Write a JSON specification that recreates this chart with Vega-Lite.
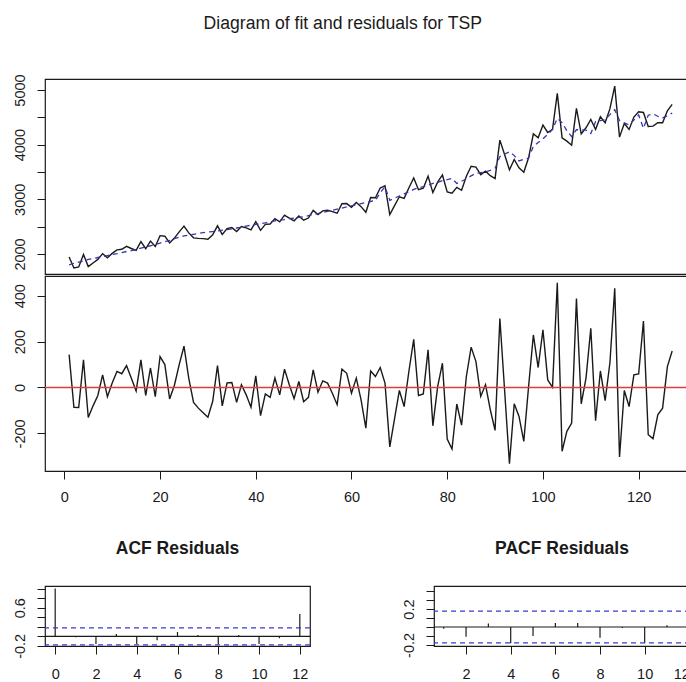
{
"$schema": "https://vega.github.io/schema/vega-lite/v6.json",
"padding": {"left": 0, "top": 14, "right": 0, "bottom": 0},
"background": "white",
"title": {"text": "Diagram of fit and residuals for TSP", "fontSize": 17.6, "fontWeight": "normal", "anchor": "middle", "offset": 41, "dx": -3},
"config": {
  "font": "Liberation Sans",
  "view": {"stroke": "#1a1a1a", "strokeWidth": 1.2},
  "axis": {"domain": false, "grid": false, "labelFont": "Liberation Sans", "labelFontSize": 14.5, "labelColor": "#1a1a1a", "tickColor": "#1a1a1a", "tickSize": 8, "tickWidth": 1, "labelOverlap": false, "tickCount": 30},
  "title": {"font": "Liberation Sans", "color": "#1a1a1a"}
},
"datasets": {
"ts": [
{"t":1,"actual":1943,"fitted":1800,"resid":143},
{"t":2,"actual":1744,"fitted":1830,"resid":-86},
{"t":3,"actual":1763,"fitted":1850,"resid":-87},
{"t":4,"actual":1991,"fitted":1870,"resid":121},
{"t":5,"actual":1769,"fitted":1900,"resid":-131},
{"t":6,"actual":1835,"fitted":1915,"resid":-80},
{"t":7,"actual":1900,"fitted":1935,"resid":-35},
{"t":8,"actual":2005,"fitted":1950,"resid":55},
{"t":9,"actual":1930,"fitted":1970,"resid":-40},
{"t":10,"actual":2010,"fitted":1990,"resid":20},
{"t":11,"actual":2075,"fitted":2005,"resid":70},
{"t":12,"actual":2085,"fitted":2025,"resid":60},
{"t":13,"actual":2140,"fitted":2045,"resid":95},
{"t":14,"actual":2100,"fitted":2060,"resid":40},
{"t":15,"actual":2065,"fitted":2080,"resid":-15},
{"t":16,"actual":2225,"fitted":2105,"resid":120},
{"t":17,"actual":2095,"fitted":2130,"resid":-35},
{"t":18,"actual":2235,"fitted":2150,"resid":85},
{"t":19,"actual":2135,"fitted":2175,"resid":-40},
{"t":20,"actual":2335,"fitted":2200,"resid":135},
{"t":21,"actual":2325,"fitted":2225,"resid":100},
{"t":22,"actual":2200,"fitted":2250,"resid":-50},
{"t":23,"actual":2290,"fitted":2280,"resid":10},
{"t":24,"actual":2405,"fitted":2305,"resid":100},
{"t":25,"actual":2510,"fitted":2330,"resid":180},
{"t":26,"actual":2385,"fitted":2345,"resid":40},
{"t":27,"actual":2295,"fitted":2360,"resid":-65},
{"t":28,"actual":2285,"fitted":2375,"resid":-90},
{"t":29,"actual":2280,"fitted":2390,"resid":-110},
{"t":30,"actual":2270,"fitted":2400,"resid":-130},
{"t":31,"actual":2350,"fitted":2410,"resid":-60},
{"t":32,"actual":2515,"fitted":2420,"resid":95},
{"t":33,"actual":2355,"fitted":2435,"resid":-80},
{"t":34,"actual":2465,"fitted":2445,"resid":20},
{"t":35,"actual":2482,"fitted":2460,"resid":22},
{"t":36,"actual":2410,"fitted":2475,"resid":-65},
{"t":37,"actual":2502,"fitted":2490,"resid":12},
{"t":38,"actual":2478,"fitted":2510,"resid":-32},
{"t":39,"actual":2439,"fitted":2525,"resid":-86},
{"t":40,"actual":2591,"fitted":2540,"resid":51},
{"t":41,"actual":2432,"fitted":2555,"resid":-123},
{"t":42,"actual":2542,"fitted":2570,"resid":-28},
{"t":43,"actual":2547,"fitted":2590,"resid":-43},
{"t":44,"actual":2646,"fitted":2605,"resid":41},
{"t":45,"actual":2588,"fitted":2620,"resid":-32},
{"t":46,"actual":2710,"fitted":2630,"resid":80},
{"t":47,"actual":2657,"fitted":2645,"resid":12},
{"t":48,"actual":2606,"fitted":2655,"resid":-49},
{"t":49,"actual":2696,"fitted":2670,"resid":26},
{"t":50,"actual":2618,"fitted":2680,"resid":-62},
{"t":51,"actual":2657,"fitted":2700,"resid":-43},
{"t":52,"actual":2797,"fitted":2720,"resid":77},
{"t":53,"actual":2720,"fitted":2740,"resid":-20},
{"t":54,"actual":2789,"fitted":2760,"resid":29},
{"t":55,"actual":2799,"fitted":2780,"resid":19},
{"t":56,"actual":2775,"fitted":2800,"resid":-25},
{"t":57,"actual":2745,"fitted":2820,"resid":-75},
{"t":58,"actual":2920,"fitted":2840,"resid":80},
{"t":59,"actual":2922,"fitted":2860,"resid":62},
{"t":60,"actual":2855,"fitted":2880,"resid":-25},
{"t":61,"actual":2941,"fitted":2900,"resid":41},
{"t":62,"actual":2866,"fitted":2920,"resid":-54},
{"t":63,"actual":2763,"fitted":2940,"resid":-177},
{"t":64,"actual":3032,"fitted":2960,"resid":72},
{"t":65,"actual":3028,"fitted":2980,"resid":48},
{"t":66,"actual":3207,"fitted":3120,"resid":87},
{"t":67,"actual":3249,"fitted":3230,"resid":19},
{"t":68,"actual":2721,"fitted":2980,"resid":-259},
{"t":69,"actual":2884,"fitted":3020,"resid":-136},
{"t":70,"actual":3047,"fitted":3060,"resid":-13},
{"t":71,"actual":3017,"fitted":3100,"resid":-83},
{"t":72,"actual":3212,"fitted":3140,"resid":72},
{"t":73,"actual":3390,"fitted":3180,"resid":210},
{"t":74,"actual":3175,"fitted":3210,"resid":-35},
{"t":75,"actual":3202,"fitted":3230,"resid":-28},
{"t":76,"actual":3424,"fitted":3260,"resid":164},
{"t":77,"actual":3123,"fitted":3290,"resid":-167},
{"t":78,"actual":3314,"fitted":3310,"resid":4},
{"t":79,"actual":3446,"fitted":3340,"resid":106},
{"t":80,"actual":3135,"fitted":3360,"resid":-225},
{"t":81,"actual":3112,"fitted":3380,"resid":-268},
{"t":82,"actual":3218,"fitted":3290,"resid":-72},
{"t":83,"actual":3166,"fitted":3330,"resid":-164},
{"t":84,"actual":3423,"fitted":3375,"resid":48},
{"t":85,"actual":3606,"fitted":3430,"resid":176},
{"t":86,"actual":3588,"fitted":3475,"resid":113},
{"t":87,"actual":3451,"fitted":3490,"resid":-39},
{"t":88,"actual":3515,"fitted":3503,"resid":12},
{"t":89,"actual":3433,"fitted":3530,"resid":-97},
{"t":90,"actual":3380,"fitted":3567,"resid":-187},
{"t":91,"actual":4083,"fitted":3782,"resid":301},
{"t":92,"actual":3815,"fitted":3830,"resid":-15},
{"t":93,"actual":3538,"fitted":3870,"resid":-332},
{"t":94,"actual":3729,"fitted":3800,"resid":-71},
{"t":95,"actual":3576,"fitted":3702,"resid":-126},
{"t":96,"actual":3495,"fitted":3730,"resid":-235},
{"t":97,"actual":3759,"fitted":3755,"resid":4},
{"t":98,"actual":4199,"fitted":3970,"resid":229},
{"t":99,"actual":4127,"fitted":4040,"resid":87},
{"t":100,"actual":4358,"fitted":4107,"resid":251},
{"t":101,"actual":4223,"fitted":4190,"resid":33},
{"t":102,"actual":4279,"fitted":4278,"resid":1},
{"t":103,"actual":4938,"fitted":4482,"resid":456},
{"t":104,"actual":4126,"fitted":4404,"resid":-278},
{"t":105,"actual":4065,"fitted":4256,"resid":-191},
{"t":106,"actual":3991,"fitted":4146,"resid":-155},
{"t":107,"actual":4663,"fitted":4275,"resid":388},
{"t":108,"actual":4199,"fitted":4270,"resid":-71},
{"t":109,"actual":4309,"fitted":4268,"resid":41},
{"t":110,"actual":4462,"fitted":4204,"resid":258},
{"t":111,"actual":4279,"fitted":4424,"resid":-145},
{"t":112,"actual":4512,"fitted":4440,"resid":72},
{"t":113,"actual":4400,"fitted":4457,"resid":-57},
{"t":114,"actual":4659,"fitted":4550,"resid":109},
{"t":115,"actual":5073,"fitted":4641,"resid":432},
{"t":116,"actual":4138,"fitted":4441,"resid":-303},
{"t":117,"actual":4387,"fitted":4400,"resid":-13},
{"t":118,"actual":4279,"fitted":4362,"resid":-83},
{"t":119,"actual":4505,"fitted":4450,"resid":55},
{"t":120,"actual":4602,"fitted":4543,"resid":59},
{"t":121,"actual":4590,"fitted":4300,"resid":290},
{"t":122,"actual":4334,"fitted":4540,"resid":-206},
{"t":123,"actual":4340,"fitted":4563,"resid":-223},
{"t":124,"actual":4401,"fitted":4520,"resid":-119},
{"t":125,"actual":4400,"fitted":4490,"resid":-90},
{"t":126,"actual":4621,"fitted":4530,"resid":91},
{"t":127,"actual":4737,"fitted":4578,"resid":159}
],
"zero": [{"y": 0}],
"acf": [
{"lag":0,"acf":1.0},{"lag":1,"acf":-0.02},{"lag":2,"acf":-0.16},{"lag":3,"acf":0.05},{"lag":4,"acf":-0.16},{"lag":5,"acf":-0.08},{"lag":6,"acf":0.09},{"lag":7,"acf":0.03},{"lag":8,"acf":-0.16},{"lag":9,"acf":0.03},{"lag":10,"acf":-0.16},{"lag":11,"acf":-0.04},{"lag":12,"acf":0.47}
],
"pacf": [
{"lag":1,"pacf":-0.02},{"lag":2,"pacf":-0.11},{"lag":3,"pacf":0.04},{"lag":4,"pacf":-0.18},{"lag":5,"pacf":-0.1},{"lag":6,"pacf":0.045},{"lag":7,"pacf":0.045},{"lag":8,"pacf":-0.12},{"lag":9,"pacf":-0.01},{"lag":10,"pacf":-0.18},{"lag":11,"pacf":0.02},{"lag":12,"pacf":0.45}
],
"clim": [{"y": 0.1775}, {"y": -0.1775}]
},
"spacing": 33,
"vconcat": [
{
 "spacing": 0,
 "vconcat": [
  {
   "width": 642, "height": 195,
   "data": {"name": "ts"},
   "layer": [
    {"mark": {"type": "line", "color": "#1a1a1a", "strokeWidth": 1.4},
     "encoding": {
      "x": {"field": "t", "type": "quantitative", "scale": {"domain": [-4.04, 130.1], "nice": false, "zero": false}, "axis": null},
      "y": {"field": "actual", "type": "quantitative", "scale": {"domain": [1633, 5202], "nice": false, "zero": false},
            "axis": {"title": null, "values": [2000,2500,3000,3500,4000,4500,5000], "tickCount": 30, "labelExpr": "datum.value % 1000 == 0 ? format(datum.value, 'd') : ''", "labelAngle": -90, "labelAlign": "center", "labelBaseline": "bottom", "labelPadding": 10, "minExtent": 44, "maxExtent": 44}}
     }},
    {"mark": {"type": "line", "color": "#3535b5", "strokeWidth": 1.3, "strokeDash": [5, 4]},
     "encoding": {
      "x": {"field": "t", "type": "quantitative"},
      "y": {"field": "fitted", "type": "quantitative"}
     }}
   ]
  },
  {
   "width": 642, "height": 195,
   "layer": [
    {"data": {"name": "ts"},
     "mark": {"type": "line", "color": "#1a1a1a", "strokeWidth": 1.4},
     "encoding": {
      "x": {"field": "t", "type": "quantitative", "scale": {"domain": [-4.04, 130.1], "nice": false, "zero": false},
            "axis": {"title": null, "values": [0,20,40,60,80,100,120], "tickCount": 30, "format": "d", "labelPadding": 11.5}},
      "y": {"field": "resid", "type": "quantitative", "scale": {"domain": [-364, 486], "nice": false, "zero": false},
            "axis": {"title": null, "values": [-200,0,200,400], "tickCount": 30, "labelExpr": "datum.value < 0 ? '-' + format(-datum.value, 'd') : format(datum.value, 'd')", "labelAngle": -90, "labelAlign": "center", "labelBaseline": "bottom", "labelPadding": 10, "minExtent": 44, "maxExtent": 44}}
     }},
    {"data": {"name": "zero"},
     "mark": {"type": "rule", "color": "#e03c3c", "strokeWidth": 1.5},
     "encoding": {"y": {"field": "y", "type": "quantitative"}}}
   ]
  }
 ]
},
{
 "spacing": 77,
 "hconcat": [
  {
   "width": 265, "height": 60,
   "title": {"text": "ACF Residuals", "fontSize": 17.5, "fontWeight": "bold", "offset": 29},
   "layer": [
    {"data": {"name": "acf"},
     "mark": {"type": "rule", "color": "#1a1a1a", "strokeWidth": 1.2},
     "encoding": {
      "x": {"field": "lag", "type": "quantitative", "scale": {"domain": [-0.5, 12.5], "nice": false, "zero": false},
            "axis": {"title": null, "values": [0,2,4,6,8,10,12], "tickCount": 30, "format": "d", "labelPadding": 13}},
      "y": {"field": "acf", "type": "quantitative", "scale": {"domain": [-0.203, 1.055], "nice": false, "zero": false},
            "axis": {"title": null, "values": [-0.2,0,0.2,0.4,0.6,0.8,1.0], "tickCount": 30, "labelExpr": "abs(datum.value - 0.6) < 0.01 ? '0.6' : (abs(datum.value + 0.2) < 0.01 ? '-0.2' : '')", "labelAngle": -90, "labelAlign": "center", "labelBaseline": "bottom", "labelPadding": 10, "minExtent": 44, "maxExtent": 44}},
      "y2": {"datum": 0}
     }},
    {"data": {"name": "zero"},
     "mark": {"type": "rule", "color": "#1a1a1a", "strokeWidth": 1.2},
     "encoding": {"y": {"field": "y", "type": "quantitative"}}},
    {"data": {"name": "clim"},
     "mark": {"type": "rule", "color": "#3b3bd0", "strokeWidth": 1.2, "strokeDash": [5, 4]},
     "encoding": {"y": {"field": "y", "type": "quantitative"}}}
   ]
  },
  {
   "width": 256, "height": 60,
   "title": {"text": "PACF Residuals", "fontSize": 17.5, "fontWeight": "bold", "offset": 29},
   "layer": [
    {"data": {"name": "pacf"},
     "mark": {"type": "rule", "color": "#1a1a1a", "strokeWidth": 1.2},
     "encoding": {
      "x": {"field": "lag", "type": "quantitative", "scale": {"domain": [0.565, 12.03], "nice": false, "zero": false},
            "axis": {"title": null, "values": [2,4,6,8,10,12], "tickCount": 30, "format": "d", "labelPadding": 13}},
      "y": {"field": "pacf", "type": "quantitative", "scale": {"domain": [-0.212, 0.458], "nice": false, "zero": false},
            "axis": {"title": null, "values": [-0.2,-0.1,0,0.1,0.2,0.3,0.4], "tickCount": 30, "labelExpr": "abs(datum.value - 0.2) < 0.01 ? '0.2' : (abs(datum.value + 0.2) < 0.01 ? '-0.2' : '')", "labelAngle": -90, "labelAlign": "center", "labelBaseline": "bottom", "labelPadding": 10, "minExtent": 44, "maxExtent": 44}},
      "y2": {"datum": 0}
     }},
    {"data": {"name": "zero"},
     "mark": {"type": "rule", "color": "#1a1a1a", "strokeWidth": 1.2},
     "encoding": {"y": {"field": "y", "type": "quantitative"}}},
    {"data": {"name": "clim"},
     "mark": {"type": "rule", "color": "#3b3bd0", "strokeWidth": 1.2, "strokeDash": [5, 4]},
     "encoding": {"y": {"field": "y", "type": "quantitative"}}}
   ]
  }
 ]
}
]
}
